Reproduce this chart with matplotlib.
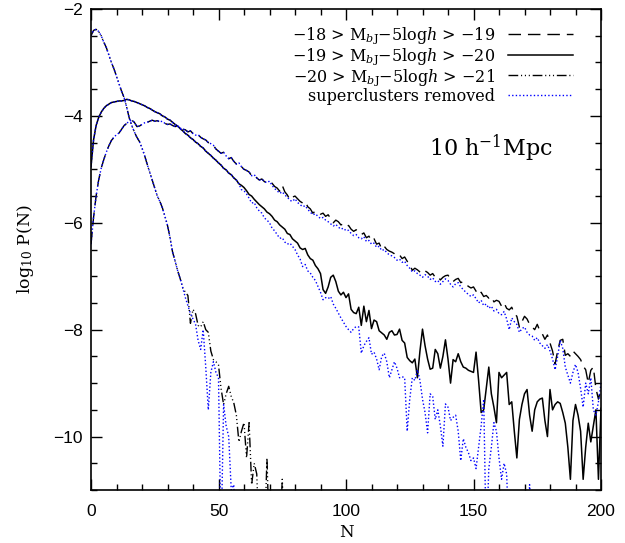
import numpy as np
import matplotlib.pyplot as plt

plt.rcParams['mathtext.fontset'] = 'dejavuserif'
plt.rcParams['font.family'] = 'DejaVu Serif'

# log10 P(N), one value per N
# -20 > M > -21 (dash-dot-dot-dot); -12 means no counts (falls below the axis)
bright = [-2.50, -2.40, -2.38, -2.42, -2.50, -2.62, -2.72, -2.86, -3.00, -3.12,
          -3.26, -3.40, -3.54, -3.66, -3.84, -4.04, -4.18, -4.30, -4.40, -4.48,
          -4.60, -4.74, -4.90, -5.05, -5.20, -5.35, -5.50, -5.60, -5.72, -5.88,
          -6.05, -6.28, -6.55, -6.72, -6.90, -7.05, -7.22, -7.30, -7.36, -7.88,
          -7.62, -7.70, -7.92, -7.95, -7.85, -8.00, -8.05, -8.40, -8.56, -8.60,
          -8.66, -9.10, -9.40, -9.20, -9.06, -9.25, -9.37, -9.60, -10.10, -9.90,
          -9.74, -10.40, -9.74, -10.90, -10.50, -10.70, -12.0, -12.0, -12.0, -10.40,
          -12.0, -12.0, -12.0, -12.0, -12.0, -10.80, -12.0]
bright_nosc = bright[:37] + [-7.40, -7.55, -7.70, -7.80, -7.90, -8.20, -8.37, -8.00,
                             -8.70, -9.50, -8.80, -8.60, -8.80, -8.90, -12.0, -9.40,
                             -9.80, -10.00, -11.0, -10.90, -12.0]

# -19 > M > -20 (solid)
mid = [-4.95, -4.45, -4.18, -4.03, -3.93, -3.86, -3.81, -3.78, -3.75, -3.74,
       -3.73, -3.72, -3.72, -3.71, -3.69, -3.70, -3.72, -3.73, -3.75, -3.77,
       -3.79, -3.81, -3.84, -3.86, -3.89, -3.92, -3.94, -3.96, -4.00, -4.02,
       -4.06, -4.08, -4.12, -4.16, -4.19, -4.24, -4.28, -4.33, -4.36, -4.41,
       -4.44, -4.49, -4.52, -4.57, -4.60, -4.66, -4.70, -4.74, -4.79, -4.83,
       -4.88, -4.92, -4.98, -5.01, -5.07, -5.10, -5.16, -5.20, -5.27, -5.30,
       -5.34, -5.40, -5.47, -5.50, -5.56, -5.61, -5.66, -5.70, -5.74, -5.80,
       -5.83, -5.88, -5.95, -5.98, -6.04, -6.08, -6.12, -6.20, -6.22, -6.30,
       -6.34, -6.38, -6.47, -6.50, -6.48, -6.60, -6.67, -6.70, -6.80, -6.86,
       -6.95, -7.25, -7.32, -7.20, -7.02, -6.98, -7.10, -7.28, -7.35, -7.30,
       -7.40, -7.33, -7.62, -7.68, -7.70, -7.58, -7.92, -7.56, -7.85, -7.64,
       -7.98, -7.82, -7.85, -8.02, -8.06, -8.10, -8.18, -8.05, -8.02, -8.10,
       -8.09, -7.99, -8.20, -8.25, -8.52, -8.58, -8.62, -8.55, -8.90, -8.40,
       -7.99, -8.30, -8.55, -8.74, -8.72, -8.37, -8.45, -8.72, -8.50, -8.19,
       -8.55, -9.00, -8.56, -8.60, -8.45, -8.60, -8.70, -8.72, -8.76, -8.78,
       -8.80, -8.42, -8.95, -9.55, -9.50, -9.10, -8.70, -9.20, -9.45, -9.74,
       -8.80, -8.90, -8.85, -8.80, -9.40, -9.35, -9.90, -10.40, -9.68, -9.40,
       -9.20, -9.12, -9.60, -9.90, -9.50, -9.35, -9.30, -9.28, -9.70, -10.00,
       -9.12, -9.50, -9.40, -9.35, -9.38, -9.55, -9.75, -10.20, -10.80, -9.70,
       -9.40, -9.60, -9.90, -10.80, -10.20, -9.75, -10.10, -9.80, -9.50, -10.80,
       -9.47]
mid_nosc = mid[:59] + [
    -5.38, -5.40, -5.46, -5.54, -5.63, -5.62, -5.72, -5.78, -5.82, -5.91, -5.95,
    -6.00, -6.10, -6.15, -6.22, -6.29, -6.28, -6.36, -6.40, -6.38, -6.44,
    -6.50, -6.60, -6.68, -6.82, -6.78, -6.90, -6.94, -7.02, -7.08, -7.19,
    -7.30, -7.44, -7.40, -7.42, -7.38, -7.52, -7.60, -7.69, -7.78, -7.86,
    -7.94, -8.00, -8.05, -7.98, -7.94, -7.95, -8.44, -8.30, -8.22, -8.15,
    -8.46, -8.42, -8.55, -8.75, -8.50, -8.44, -8.60, -8.90, -8.75, -8.60,
    -8.72, -8.90, -8.88, -8.90, -9.90, -9.30, -8.90, -8.95, -8.75, -8.95,
    -9.30, -9.55, -9.93, -9.20, -9.25, -9.68, -9.50, -9.80, -10.18, -9.39,
    -9.45, -9.70, -9.64, -9.60, -9.90, -10.45, -10.04, -10.20, -10.30, -10.45,
    -10.40, -10.60, -10.20, -9.80, -9.30, -12.0, -10.60, -10.20, -9.74, -9.90,
    -10.40, -10.80, -10.50, -10.70, -12.0, -12.0, -12.0, -12.0, -12.0, -12.0,
    -12.0, -12.0, -10.90, -12.0]

# -18 > M > -19 (dashed)
faint = [-6.40, -5.90, -5.50, -5.20, -4.98, -4.82, -4.68, -4.56, -4.46, -4.40,
         -4.35, -4.32, -4.25, -4.18, -4.14, -4.10, -4.08, -4.12, -4.20, -4.19,
         -4.16, -4.13, -4.12, -4.10, -4.08, -4.10, -4.09, -4.11, -4.10, -4.14,
         -4.16, -4.15, -4.18, -4.20, -4.19, -4.23, -4.25, -4.26, -4.30, -4.28,
         -4.33, -4.36, -4.35, -4.40, -4.43, -4.45, -4.50, -4.52, -4.55, -4.62,
         -4.66, -4.70, -4.68, -4.75, -4.80, -4.78, -4.85, -4.90, -4.88, -4.95,
         -5.00, -5.02, -5.05, -5.12, -5.10, -5.16, -5.20, -5.18, -5.23, -5.25,
         -5.22, -5.26, -5.32, -5.35, -5.41, -5.30, -5.42, -5.48, -5.57, -5.52,
         -5.50, -5.55, -5.60, -5.63, -5.60, -5.70, -5.74, -5.82, -5.78, -5.80,
         -5.84, -5.82, -5.88, -5.85, -5.92, -6.00, -5.95, -5.98, -6.04, -6.02,
         -6.07, -6.05, -6.12, -6.16, -6.13, -6.19, -6.22, -6.19, -6.28, -6.25,
         -6.34, -6.30, -6.40, -6.38, -6.49, -6.44, -6.50, -6.53, -6.55, -6.58,
         -6.62, -6.60, -6.67, -6.64, -6.72, -6.78, -6.89, -6.85, -6.88, -6.92,
         -6.95, -6.90, -6.93, -6.98, -6.95, -7.02, -7.00, -7.07, -7.02, -6.99,
         -6.98, -7.05, -7.10, -7.06, -7.04, -7.12, -7.10, -7.15, -7.19, -7.22,
         -7.20, -7.28, -7.35, -7.30, -7.38, -7.36, -7.41, -7.38, -7.48, -7.45,
         -7.47, -7.56, -7.50, -7.60, -7.63, -7.58, -7.70, -7.75, -7.95, -7.85,
         -7.75, -7.80, -7.90, -7.95, -8.00, -7.90, -8.02, -8.08, -8.18, -8.10,
         -8.25, -8.40, -8.64, -8.40, -8.20, -8.18, -8.48, -8.45, -8.50, -8.40,
         -8.45, -8.50, -8.56, -8.68, -8.75, -9.00, -8.76, -8.70, -9.10, -9.30,
         -9.10]
faint_nosc = faint[:71] + [
    -5.30, -5.36, -5.40, -5.45, -5.42, -5.48, -5.52, -5.58, -5.60,
    -5.55, -5.62, -5.66, -5.70, -5.68, -5.75, -5.80, -5.85, -5.83, -5.88,
    -5.92, -5.90, -5.95, -5.98, -6.02, -6.06, -6.03, -6.08, -6.12, -6.10,
    -6.15, -6.14, -6.20, -6.24, -6.22, -6.28, -6.30, -6.26, -6.35, -6.33,
    -6.40, -6.38, -6.46, -6.44, -6.52, -6.50, -6.56, -6.60, -6.62, -6.65,
    -6.70, -6.68, -6.74, -6.72, -6.80, -6.85, -6.92, -6.90, -6.95, -6.98,
    -7.02, -6.97, -7.00, -7.06, -7.03, -7.10, -7.08, -7.15, -7.10, -7.05,
    -7.08, -7.15, -7.20, -7.14, -7.12, -7.20, -7.25, -7.30, -7.34, -7.38,
    -7.35, -7.42, -7.50, -7.45, -7.55, -7.52, -7.60, -7.56, -7.65, -7.62,
    -7.70, -7.72, -7.66, -7.80, -8.00, -7.78, -7.85, -7.90, -8.05, -7.98,
    -7.95, -8.05, -8.10, -8.12, -8.20, -8.15, -8.25, -8.30, -8.35, -8.28,
    -8.40, -8.55, -8.75, -8.50, -8.20, -8.35, -8.70, -8.85, -9.00, -8.80,
    -8.65, -8.80, -9.10, -9.45, -9.00, -9.20, -8.90, -9.50, -9.60, -9.35,
    -9.00]

labels = [r'$-$18 > M$_{b\mathrm{J}}$$-$5log$h$ > $-$19',
          r'$-$19 > M$_{b\mathrm{J}}$$-$5log$h$ > $-$20',
          r'$-$20 > M$_{b\mathrm{J}}$$-$5log$h$ > $-$21',
          'superclusters removed']

dash = (0, (9, 5))
dash3dot = (0, (7, 2, 0.8, 2, 0.8, 2, 0.8, 2))
dot = (0, (1, 1.6))

fig = plt.figure(figsize=(6.25, 5.43), dpi=100)
ax = fig.add_axes([0.1456, 0.0976, 0.816, 0.8858])

ax.plot(np.arange(len(faint)), faint, color='black', lw=1, ls=dash, label=labels[0])
ax.plot(np.arange(len(mid)), mid, color='black', lw=1.1, ls='-', label=labels[1])
ax.plot(np.arange(len(bright)), bright, color='black', lw=1, ls=dash3dot, label=labels[2])
ax.plot(np.arange(len(faint_nosc)), faint_nosc, color='blue', lw=1, ls=dot, label=labels[3])
ax.plot(np.arange(len(mid_nosc)), mid_nosc, color='blue', lw=1, ls=dot)
ax.plot(np.arange(len(bright_nosc)), bright_nosc, color='blue', lw=1, ls=dot)

ax.set_xlim(0, 200)
ax.set_ylim(-11, -2)
ax.set_xticks([0, 50, 100, 150, 200])
ax.set_xticks(np.arange(0, 201, 10), minor=True)
ax.set_yticks([-10, -8, -6, -4, -2])
ax.set_yticks(np.arange(-11, -1.9, 0.5), minor=True)
ax.set_yticklabels(['\u221210', '\u22128', '\u22126', '\u22124', '\u22122'])
ax.tick_params(which='both', direction='in', top=True, right=True, width=1)
ax.tick_params(which='major', length=8)
ax.tick_params(which='minor', length=4.5)
ax.tick_params(axis='x', pad=10)
ax.tick_params(axis='y', pad=6)
for lab in ax.get_xticklabels() + ax.get_yticklabels():
    lab.set_family('Liberation Sans')
    lab.set_fontsize(12.5)
for s in ax.spines.values():
    s.set_linewidth(1.2)

ax.set_xlabel('N', fontsize=12)
ax.xaxis.label.set_va('center')
ax.xaxis.set_label_coords(0.5, -0.088)
ax.set_ylabel(r'log$_{10}$ P(N)', fontsize=12.5, labelpad=12)

ax.legend(loc='upper right', bbox_to_anchor=(0.968, 0.99), frameon=False,
          markerfirst=False, fontsize=11.5, handlelength=4.1, handletextpad=0.8,
          labelspacing=0.0, borderpad=0.2)

ax.text(0.905, 0.711, r'10 h$^{-1}$Mpc', transform=ax.transAxes, fontsize=16,
        ha='right', va='center')

fig.savefig('out.png', dpi=100)
